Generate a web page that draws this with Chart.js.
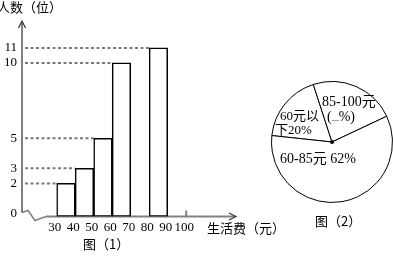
<!DOCTYPE html>
<html>
<head>
<meta charset="utf-8">
<script src="https://cdn.jsdelivr.net/npm/chart.js@4.4.1/dist/chart.umd.min.js"></script>
<style>
  body { margin: 0; background: #fff; }
  #wrap { position: relative; width: 393px; height: 256px; overflow: hidden; }
  #histChart { position: absolute; left: 0; top: 0; }
  #pieChart { position: absolute; left: 271px; top: 81px; }
</style>
</head>
<body>
<div id="wrap">
  <canvas id="histChart" width="393" height="256"></canvas>
  <canvas id="pieChart" width="122" height="122"></canvas>
</div>
<script>
// histogram: bins of 10 yuan
const binStarts = [30, 40, 50, 60, 80];
const binCounts = [2, 3, 5, 10, 11];
const yTicks = [0, 2, 3, 5, 10, 11];
const xTicks = [30, 40, 50, 60, 70, 80, 90, 100];

// pie: shares as drawn (deg -> %), labels as printed
const pieLabels = ['60元以下', '85-100元', '60-85元'];
const pieShares = [18.3, 23.0, 58.7];

const SERIF = '"Liberation Serif", "Noto Sans CJK SC", serif';
const CJK = '"Noto Sans CJK SC", sans-serif';
const AXIS_GRAY = '#808080';

const histDecor = {
  id: 'histDecor',
  beforeDatasetsDraw(chart) {
    const ctx = chart.ctx;
    const area = chart.chartArea;
    const y = chart.scales.y;
    const x = chart.scales.x;
    const ax = area.left;
    const y0 = y.getPixelForValue(0);
    const bottom = area.bottom;

    ctx.save();
    // y axis
    ctx.strokeStyle = AXIS_GRAY;
    ctx.lineWidth = 2;
    ctx.beginPath();
    ctx.moveTo(ax, y0 - 1);
    ctx.lineTo(ax, area.top);
    ctx.stroke();
    // break squiggle + x axis
    ctx.lineWidth = 1.5;
    ctx.beginPath();
    ctx.moveTo(ax, y0 - 1);
    ctx.lineTo(ax + 6, y0 - 3);
    ctx.lineTo(ax + 13, y0 + 7);
    ctx.lineTo(ax + 24, bottom);
    ctx.stroke();
    ctx.lineWidth = 2;
    ctx.beginPath();
    ctx.moveTo(ax + 24, bottom);
    ctx.lineTo(area.right, bottom);
    ctx.stroke();
    // tick at 100
    const t100 = x.getPixelForValue(100);
    ctx.beginPath();
    ctx.moveTo(t100, bottom - 6);
    ctx.lineTo(t100, bottom);
    ctx.stroke();
    // arrows
    ctx.strokeStyle = '#333';
    ctx.lineWidth = 1.2;
    ctx.beginPath();
    ctx.moveTo(ax - 3.5, area.top + 6);
    ctx.lineTo(ax, area.top - 1);
    ctx.lineTo(ax + 3.5, area.top + 6);
    ctx.stroke();
    ctx.beginPath();
    ctx.moveTo(area.right - 6, bottom - 3.5);
    ctx.lineTo(area.right + 1, bottom);
    ctx.lineTo(area.right - 6, bottom + 3.5);
    ctx.stroke();

    // dashed guides from the axis to each bar top
    ctx.strokeStyle = '#7a7a7a';
    ctx.lineWidth = 2;
    ctx.setLineDash([3, 2.5]);
    chart.getDatasetMeta(0).data.forEach(bar => {
      ctx.beginPath();
      ctx.moveTo(ax + 3, bar.y);
      ctx.lineTo(bar.x - bar.width / 2, bar.y);
      ctx.stroke();
    });
    ctx.restore();
  },
  afterDraw(chart) {
    const ctx = chart.ctx;
    ctx.save();
    ctx.fillStyle = '#000';
    ctx.textBaseline = 'middle';
    ctx.textAlign = 'left';
    ctx.font = '13px ' + CJK;
    ctx.fillText('人数（位）', -3, 7);
    ctx.fillText('生活费（元）', 207, 228);
    ctx.fillText('图（1）', 83, 244);
    ctx.fillText('图（2）', 315, 221);
    ctx.restore();
  }
};

new Chart(document.getElementById('histChart'), {
  type: 'bar',
  data: {
    datasets: [{
      data: binStarts.map((s, i) => ({ x: s + 5, y: binCounts[i] })),
      backgroundColor: '#fff',
      borderColor: '#000',
      borderWidth: 1.5,
      borderSkipped: false,
      base: -0.2,
      barPercentage: 1,
      categoryPercentage: 1
    }]
  },
  options: {
    responsive: false,
    animation: false,
    layout: { padding: { top: 22, right: 158, left: 0, bottom: 0 } },
    plugins: { legend: { display: false }, tooltip: { enabled: false } },
    scales: {
      x: {
        type: 'linear',
        offset: false,
        min: 11.24,
        max: 126.4,
        afterBuildTicks: s => { s.ticks = xTicks.map(v => ({ value: v })); },
        afterFit: s => { s.height = 39.5; },
        grid: { display: false, drawTicks: false },
        border: { display: false },
        ticks: { font: { family: SERIF, size: 13 }, color: '#000', padding: 3, labelOffset: -2, maxRotation: 0, autoSkip: false }
      },
      y: {
        type: 'linear',
        min: -0.2,
        max: 12.72,
        afterBuildTicks: s => { s.ticks = yTicks.map(v => ({ value: v })); },
        afterFit: s => { s.width = 22; },
        grid: { display: false, drawTicks: false },
        border: { display: false },
        ticks: { font: { family: SERIF, size: 13 }, color: '#000', padding: 5 }
      }
    }
  },
  plugins: [histDecor]
});

const pieDecor = {
  id: 'pieDecor',
  afterDatasetsDraw(chart) {
    const ctx = chart.ctx;
    const arc = chart.getDatasetMeta(0).data[0];
    const cx = arc.x, cy = arc.y;
    ctx.save();
    ctx.fillStyle = '#000';
    ctx.beginPath();
    ctx.arc(cx, cy, 2, 0, Math.PI * 2);
    ctx.fill();

    ctx.textBaseline = 'middle';
    ctx.textAlign = 'left';
    ctx.font = '14px ' + SERIF;
    ctx.fillText('85-100元', cx - 10, cy - 40);
    ctx.fillText('(', cx - 5, cy - 25);
    const pw = ctx.measureText('(').width;
    ctx.fillStyle = '#888';
    ctx.fillText('_', cx - 5 + pw, cy - 27);
    const uw = ctx.measureText('_').width;
    ctx.fillStyle = '#000';
    ctx.fillText('%)', cx - 5 + pw + uw, cy - 25);
    ctx.font = '13px ' + SERIF;
    ctx.fillText('60元以', cx - 52, cy - 25);
    ctx.fillText('下20%', cx - 57, cy - 11);
    ctx.font = '14px ' + SERIF;
    ctx.fillText('60-85元 62%', cx - 52, cy + 17);
    ctx.restore();
  }
};

new Chart(document.getElementById('pieChart'), {
  type: 'pie',
  data: {
    labels: pieLabels,
    datasets: [{
      data: pieShares,
      backgroundColor: '#fff',
      borderColor: '#000',
      borderWidth: 1
    }]
  },
  options: {
    responsive: false,
    animation: false,
    rotation: -83.9,
    layout: { padding: 0 },
    plugins: { legend: { display: false }, tooltip: { enabled: false } }
  },
  plugins: [pieDecor]
});
</script>
</body>
</html>
